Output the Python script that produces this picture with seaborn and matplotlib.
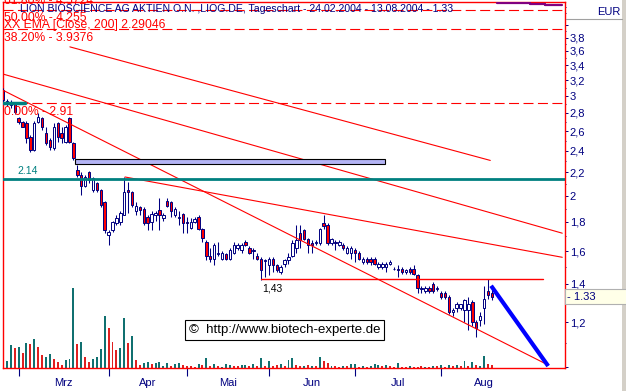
import numpy as np
import pandas as pd
import matplotlib
matplotlib.use("Agg")
import matplotlib.pyplot as plt
import matplotlib.transforms as mtransforms
from matplotlib.patches import Rectangle
from matplotlib.lines import Line2D
from matplotlib.ticker import NullFormatter
import seaborn as sns

# daily candles 24.02.2004 - 13.08.2004 (EUR)
open_ = [3.07, 2.92, 2.89, 2.91, 2.74, 2.70, 2.69, 2.54, 2.41, 2.70,
         2.74, 2.58, 2.51, 2.43, 2.69, 2.58, 2.49, 2.74, 2.48, 2.22,
         2.18, 2.08, 2.20, 2.05, 2.11, 2.05, 1.95, 1.71, 1.74, 1.79,
         1.80, 1.85, 2.05, 2.03, 1.88, 1.91, 1.90, 1.84, 1.80, 1.85,
         1.89, 1.83, 1.96, 1.95, 1.85, 1.83, 1.86, 1.80, 1.76, 1.80,
         1.84, 1.75, 1.66, 1.57, 1.55, 1.58, 1.55, 1.58, 1.55, 1.59,
         1.62, 1.61, 1.66, 1.62, 1.60, 1.57, 1.55, 1.535, 1.51, 1.55,
         1.51, 1.47, 1.52, 1.54, 1.57, 1.62, 1.72, 1.74, 1.68, 1.65,
         1.65, 1.65, 1.79, 1.78, 1.65, 1.66, 1.64, 1.64, 1.59, 1.59,
         1.61, 1.59, 1.53, 1.55, 1.55, 1.55, 1.50, 1.50, 1.50, 1.52,
         1.485, 1.49, 1.49, 1.47, 1.49, 1.49, 1.45, 1.37, 1.36, 1.38,
         1.40, 1.37, 1.35, 1.35, 1.33, 1.25, 1.27, 1.27, 1.26, 1.26,
         1.30, 1.20, 1.21, 1.27, 1.36, 1.35]
high = [3.10, 2.96, 2.95, 2.93, 2.76, 2.71, 2.71, 2.56, 2.71, 2.80,
        2.76, 2.64, 2.53, 2.69, 2.70, 2.64, 2.67, 2.75, 2.49, 2.27,
        2.20, 2.18, 2.21, 2.16, 2.12, 2.06, 1.96, 1.74, 1.81, 1.85,
        1.88, 2.16, 2.12, 2.04, 1.95, 1.92, 1.91, 1.85, 1.88, 1.88,
        1.98, 1.87, 1.98, 1.96, 1.91, 1.88, 1.87, 1.84, 1.83, 1.84,
        1.85, 1.76, 1.67, 1.62, 1.65, 1.66, 1.60, 1.59, 1.62, 1.66,
        1.65, 1.65, 1.67, 1.63, 1.62, 1.59, 1.56, 1.55, 1.56, 1.56,
        1.52, 1.51, 1.55, 1.59, 1.67, 1.78, 1.78, 1.75, 1.69, 1.67,
        1.67, 1.76, 1.85, 1.79, 1.69, 1.67, 1.67, 1.65, 1.63, 1.63,
        1.62, 1.60, 1.56, 1.56, 1.56, 1.56, 1.53, 1.53, 1.53, 1.54,
        1.50, 1.51, 1.50, 1.49, 1.50, 1.51, 1.46, 1.39, 1.39, 1.39,
        1.41, 1.39, 1.36, 1.36, 1.34, 1.27, 1.30, 1.29, 1.32, 1.33,
        1.31, 1.21, 1.25, 1.39, 1.43, 1.39]
low = [2.93, 2.88, 2.86, 2.79, 2.68, 2.64, 2.48, 2.39, 2.40, 2.69,
       2.61, 2.46, 2.41, 2.41, 2.49, 2.48, 2.48, 2.48, 2.31, 2.16,
       2.01, 2.07, 2.11, 2.03, 2.03, 1.91, 1.72, 1.64, 1.73, 1.78,
       1.78, 1.85, 1.87, 1.91, 1.85, 1.85, 1.78, 1.74, 1.74, 1.81,
       1.74, 1.81, 1.91, 1.84, 1.84, 1.78, 1.72, 1.72, 1.75, 1.79,
       1.74, 1.66, 1.54, 1.53, 1.51, 1.57, 1.54, 1.54, 1.54, 1.58,
       1.61, 1.59, 1.63, 1.58, 1.55, 1.54, 1.42, 1.44, 1.45, 1.47,
       1.47, 1.46, 1.50, 1.52, 1.56, 1.59, 1.62, 1.67, 1.59, 1.59,
       1.64, 1.64, 1.75, 1.64, 1.64, 1.61, 1.63, 1.61, 1.58, 1.55,
       1.53, 1.54, 1.52, 1.52, 1.51, 1.51, 1.49, 1.49, 1.47, 1.51,
       1.48, 1.44, 1.46, 1.46, 1.46, 1.45, 1.35, 1.35, 1.35, 1.35,
       1.35, 1.36, 1.32, 1.32, 1.24, 1.23, 1.25, 1.26, 1.20, 1.16,
       1.18, 1.13, 1.18, 1.19, 1.32, 1.31]
close = [2.95, 2.94, 2.92, 2.81, 2.70, 2.65, 2.53, 2.41, 2.69, 2.76,
         2.64, 2.48, 2.44, 2.64, 2.54, 2.53, 2.65, 2.49, 2.33, 2.18,
         2.08, 2.16, 2.13, 2.15, 2.05, 1.93, 1.74, 1.73, 1.80, 1.83,
         1.87, 2.03, 2.03, 1.93, 1.92, 1.89, 1.79, 1.79, 1.86, 1.87,
         1.85, 1.85, 1.92, 1.88, 1.90, 1.84, 1.79, 1.79, 1.80, 1.82,
         1.75, 1.69, 1.57, 1.55, 1.64, 1.59, 1.59, 1.55, 1.61, 1.64,
         1.64, 1.64, 1.64, 1.59, 1.61, 1.55, 1.48, 1.54, 1.55, 1.51,
         1.48, 1.50, 1.54, 1.56, 1.65, 1.67, 1.67, 1.68, 1.64, 1.64,
         1.66, 1.75, 1.77, 1.65, 1.68, 1.65, 1.66, 1.62, 1.62, 1.62,
         1.59, 1.55, 1.55, 1.53, 1.53, 1.52, 1.52, 1.52, 1.52, 1.53,
         1.49, 1.48, 1.47, 1.48, 1.47, 1.46, 1.38, 1.38, 1.38, 1.36,
         1.36, 1.38, 1.33, 1.33, 1.25, 1.26, 1.29, 1.29, 1.31, 1.29,
         1.20, 1.17, 1.23, 1.32, 1.34, 1.33]

# volume in 1000 shares, colour flag g = teal / r = red
volume = [24, 28, 92, 80, 84, 60, 100, 96, 116, 84,
          52, 44, 56, 36, 24, 12, 32, 36, 320, 96,
          104, 44, 24, 36, 44, 76, 208, 160, 104, 72,
          80, 200, 100, 128, 32, 12, 20, 24, 16, 20,
          24, 8, 20, 8, 16, 20, 12, 8, 8, 4,
          16, 12, 40, 8, 16, 8, 4, 16, 12, 8,
          8, 12, 12, 8, 16, 8, 40, 8, 28, 8,
          12, 16, 8, 32, 40, 12, 8, 8, 12, 8,
          8, 44, 28, 20, 8, 8, 4, 8, 8, 16,
          16, 4, 8, 4, 8, 16, 12, 8, 12, 8,
          4, 20, 4, 4, 8, 4, 4, 8, 4, 4,
          8, 8, 12, 4, 12, 8, 12, 8, 28, 8,
          24, 12, 8, 48, 16, 12]
vol_dir = ("rggrgrgrgr" "rggrrrgggr" "grrggggrrr" "ggrgrrggrg" "gggrggrrrr"
           "grgrgrgggr" "rggrgrgrgr" "rgrggrrgrg" "rgrrgrrgrg" "grgrgggrgr"
           "rgrrgrrrgr" "grgrgrgrgr" "grggrr")

month_labels = ["Mrz", "Apr", "Mai", "Jun", "Jul", "Aug"]
month_start = [4, 27, 47, 68, 90, 112, 134]   # trading-day index of the 1st session

fib_pct = ["0.00%", "38.20%", "50.00%", "61.80%"]
fib_val = [2.91, 3.9376, 4.255, 4.5724]
ema_label = "XX EMA [Close, 200] 2.29046"
title = "LION BIOSCIENCE AG AKTIEN O.N. ,LIOG.DE, Tageschart - 24.02.2004 - 13.08.2004 - 1.33"

# drawn trend lines (start/end index, start/end price)
trend_a_x, trend_a_y = [17.1, 124.6], [3.66, 2.31]
trend_f_x, trend_f_y = [-0.8, 143.0], [3.29, 1.72]
trend_c_x, trend_c_y = [31.2, 143.0], [2.16, 1.56]
trend_b_x, trend_b_y = [0.0, 139.4], [3.07, 1.008]
proj_x, proj_y = [124.8, 139.4], [1.39, 1.004]
support_level, support_x = 1.43, [66, 138]
resist_level = 2.14
band_x, band_lo, band_hi = [18.4, 97.7], 2.28, 2.32
top_step_x, top_step_y = [126.3, 134.8, 138.6, 143.0], [4.38, 4.36, 4.34, 4.34]

RED = "#ff0000"
NAVY = "#000080"
TEAL = "#008080"

sns.set_theme(style="white")
plt.rcParams["font.family"] = ["Liberation Sans", "DejaVu Sans"]

n = len(close)
idx = np.arange(n)
o, h, l, c = map(np.array, (open_, high, low, close))
up = c >= o

fig = plt.figure(figsize=(6.26, 3.91), dpi=100)
fig.patch.set_facecolor("white")
ax = fig.add_axes([3 / 626, 23 / 391, 562 / 626, 366 / 391])
axv = ax.twinx()
ax.set_zorder(axv.get_zorder() + 1)
ax.patch.set_visible(False)

# volume bars at the bottom
vol_df = pd.DataFrame({"idx": idx, "vol": volume, "dir": list(vol_dir)})
sns.barplot(data=vol_df, x="idx", y="vol", hue="dir", palette={"g": TEAL, "r": RED},
            native_scale=True, dodge=False, width=0.5, errorbar=None, legend=False,
            linewidth=0, ax=axv)
axv.set_ylim(0, 1464)
axv.set_xlabel("")
axv.set_ylabel("")
axv.yaxis.set_visible(False)
for s in axv.spines.values():
    s.set_visible(False)

# price
ax.set_yscale("log")
ax.vlines(idx, l, h, colors=NAVY, lw=0.75, zorder=3)
ax.bar(idx, np.abs(c - o), bottom=np.minimum(o, c), width=0.62,
       color=np.where(up, "white", RED), edgecolor=NAVY, linewidth=0.7, zorder=4)

for xs, ys in [(trend_a_x, trend_a_y), (trend_f_x, trend_f_y),
               (trend_c_x, trend_c_y), (trend_b_x, trend_b_y)]:
    ax.plot(xs, ys, color=RED, lw=0.8, zorder=5)
for v in fib_val:
    ax.axhline(v, color=RED, lw=0.8, dashes=(9, 4), zorder=5)
ax.plot(support_x, [support_level] * 2, color=RED, lw=1.0, zorder=5)
ax.axhline(resist_level, color=TEAL, lw=2, zorder=5)
ax.plot([0, 5.6], [fib_val[0]] * 2, color=TEAL, lw=2.5, zorder=6)
ax.add_patch(Rectangle((band_x[0], band_lo), band_x[1] - band_x[0], band_hi - band_lo,
                       facecolor="#b4b4f5", edgecolor="black", lw=0.8, zorder=6))
ax.plot(proj_x, proj_y, color="#0000ff", lw=3, solid_capstyle="butt", zorder=6)
ax.step(top_step_x, top_step_y, where="post", color="#800080", lw=1.6, zorder=6)

ax.set_xlim(0, 143.7)
ax.set_ylim(0.996, 4.39)

blend = mtransforms.blended_transform_factory(ax.transAxes, ax.transData)
for pct, v in zip(fib_pct, fib_val):
    ax.annotate(f"{pct} - {v}", xy=(0, v), xycoords=blend, xytext=(1, -2),
                textcoords="offset points", ha="left", va="top", color=RED,
                fontsize=8.7, annotation_clip=False, zorder=8)
ax.annotate(f"{resist_level:.2f}", xy=(3.8, resist_level), xytext=(0, 2.5),
            textcoords="offset points", ha="left", va="bottom", color=TEAL, fontsize=7.5)
ax.annotate(f"{support_level:.2f}".replace(".", ","), xy=(support_x[0], support_level),
            xytext=(1, -3.5), textcoords="offset points", ha="left", va="top",
            color="black", fontsize=7.5)
ax.annotate(f"- {close[-1]:.2f}          ", xy=(1, close[-1]), xycoords=blend,
            xytext=(1.5, 0), textcoords="offset points", ha="left", va="center",
            color=NAVY, fontsize=8, annotation_clip=False,
            bbox=dict(boxstyle="square,pad=0.2", fc="#ffffe8", ec="#b0b0b0", lw=0.8))
ax.text(0.501, 0.105, "\u00a9  http://www.biotech-experte.de", transform=ax.transAxes,
        ha="center", va="center", fontsize=9.5, color="black", zorder=10,
        bbox=dict(boxstyle="square,pad=0.3", fc="white", ec="black", lw=0.8))

# axes styling
for s in ax.spines.values():
    s.set_color(RED)
    s.set_linewidth(1.0)
ax.grid(False)
axv.grid(False)

yt = [1.0, 1.2, 1.4, 1.6, 1.8, 2.0, 2.2, 2.4, 2.6, 2.8, 3.0, 3.2, 3.4, 3.6, 3.8, 4.0]
ylab = ["" if v in (1.0, 4.0) else f"{v:g}".replace(".", ",") for v in yt]
ax.yaxis.tick_right()
ax.set_yticks(yt, ylab)
ax.set_yticks([v for v in np.round(np.arange(1.1, 4.35, 0.1), 2) if v not in yt], minor=True)
ax.yaxis.set_minor_formatter(NullFormatter())
ax.tick_params(axis="y", which="major", right=True, left=False, direction="out",
               length=2.5, width=0.7, color=NAVY, labelcolor=NAVY, labelsize=8, pad=1)
ax.tick_params(axis="y", which="minor", right=True, left=False, direction="out",
               length=1, width=0.7, color=NAVY)

mids = [(a + b) / 2 for a, b in zip(month_start[:-1], month_start[1:])]
ax.set_xticks(month_start[:-1], [""] * len(month_labels))
ax.set_xticks(mids, month_labels, minor=True)
ax.tick_params(axis="x", which="major", bottom=True, direction="out", length=5.5,
               width=0.8, color=NAVY)
ax.tick_params(axis="x", which="minor", bottom=True, length=0, labelcolor=NAVY,
               labelsize=8, pad=7)

# header texts
fig.text(20 / 626, 1 - 9 / 391, title, ha="left", va="center", color=NAVY, fontsize=7.6)
fig.text(4 / 626, 1 - 25 / 391, ema_label, ha="left", va="center", color=RED, fontsize=8.7)
fig.text(620 / 626, 1 - 12 / 391, "EUR", ha="right", va="center", color=NAVY, fontsize=8)
fig.add_artist(Line2D([566 / 626, 622 / 626], [1 - 19 / 391] * 2, color="#a0a0a0", lw=0.8))
fig.add_artist(Rectangle((622 / 626, 0), 4 / 626, 1, transform=fig.transFigure,
                         facecolor="#d4d0c8", edgecolor="none"))

fig.savefig("out.png", dpi=100)
